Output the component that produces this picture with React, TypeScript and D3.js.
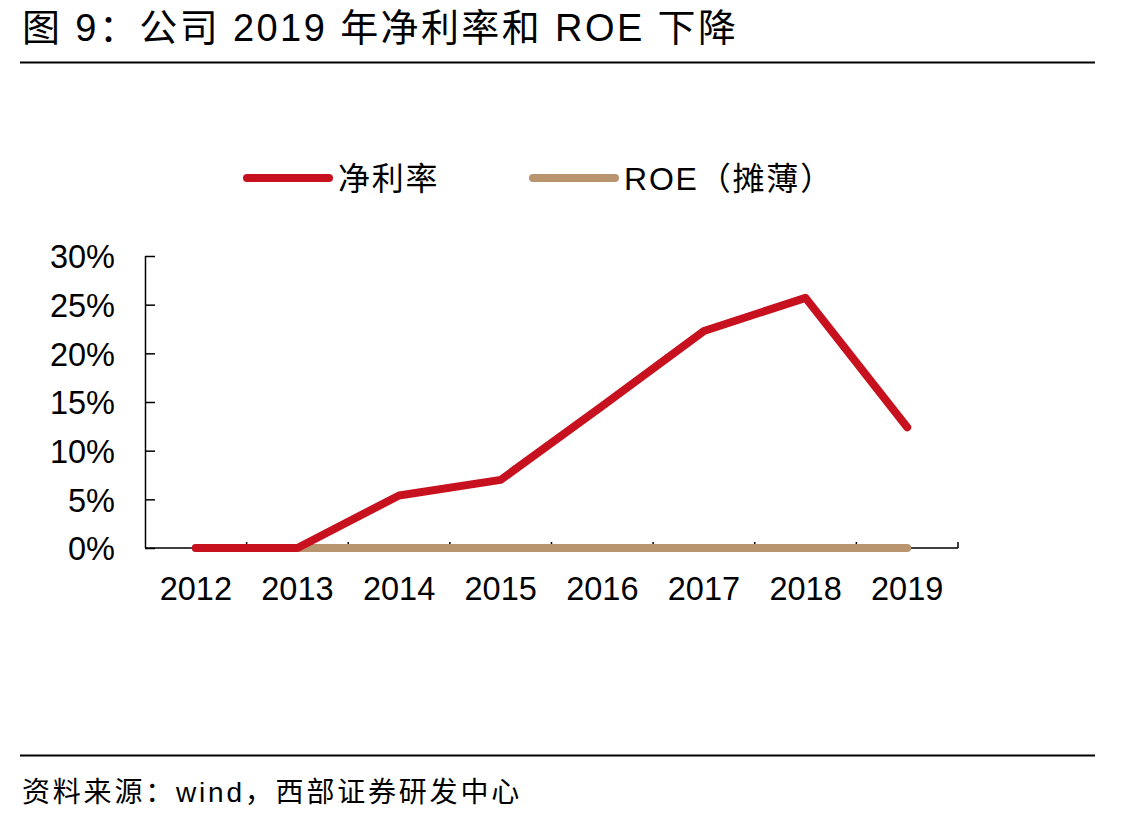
import * as d3 from 'd3';
import { useEffect, useRef } from 'react';

const years = ['2012', '2013', '2014', '2015', '2016', '2017', '2018', '2019'];
const netMargin = [0, 0, 5.4, 7.0, 14.6, 22.3, 25.7, 12.4];
const roeDiluted = [0, 0, 0, 0, 0, 0, 0, 0];
const yTicks = [0, 5, 10, 15, 20, 25, 30];

const RED = '#C8111E';
const TAN = '#B8956F';
// latin glyphs from Liberation Sans, CJK falls back to Noto
const MIXED = '"Liberation Sans", "Noto Sans CJK SC", sans-serif';
const LATIN = '"Liberation Sans", Arial, sans-serif';

const App = () => {
  const ref = useRef<SVGSVGElement | null>(null);
  const width = 1144;
  const height = 821;
  const margin = { left: 145, right: 186, top: 256, bottom: 273 };

  useEffect(() => {
    if (!ref.current) return;
    const svg = d3.select(ref.current);
    svg.selectAll('*').remove();

    // title + rules
    svg
      .append('text')
      .attr('x', 22)
      .attr('y', 41)
      .attr('font-family', MIXED)
      .attr('font-size', 38)
      .attr('letter-spacing', 2.4)
      .attr('fill', '#000')
      .text('图 9：公司 2019 年净利率和 ROE 下降');

    svg
      .append('line')
      .attr('x1', 20)
      .attr('x2', 1095)
      .attr('y1', 62.5)
      .attr('y2', 62.5)
      .attr('stroke', '#000')
      .attr('stroke-width', 2);

    svg
      .append('line')
      .attr('x1', 20)
      .attr('x2', 1095)
      .attr('y1', 755.5)
      .attr('y2', 755.5)
      .attr('stroke', '#000')
      .attr('stroke-width', 2);

    svg
      .append('text')
      .attr('x', 22)
      .attr('y', 802)
      .attr('font-family', MIXED)
      .attr('font-size', 28)
      .attr('letter-spacing', 2.8)
      .attr('fill', '#000')
      .text('资料来源：wind，西部证券研发中心');

    const x = d3
      .scaleBand()
      .domain(years)
      .range([margin.left, width - margin.right]);

    const y = d3
      .scaleLinear()
      .domain([0, 30])
      .range([height - margin.bottom, margin.top]);

    // y axis
    const yAxis = svg
      .append('g')
      .attr('transform', `translate(${margin.left},0)`)
      .call(
        d3
          .axisRight(y)
          .tickValues(yTicks)
          .tickSize(10)
          .tickFormat((d) => `${d}%`)
      );
    yAxis.selectAll('path.domain').attr('stroke', '#000').attr('stroke-width', 1.5).attr('d', `M0.5,${y(30)}V${y(0)}`);
    yAxis.selectAll('.tick line').attr('stroke', '#000').attr('stroke-width', 1.5);
    yAxis
      .selectAll('.tick text')
      .attr('x', -30)
      .attr('dy', '0.36em')
      .attr('text-anchor', 'end')
      .attr('font-family', LATIN)
      .attr('font-size', 32.5)
      .attr('fill', '#000');

    // x axis
    const bounds = [...years.map((d) => x(d)!), width - margin.right];
    const xAxis = svg.append('g');
    xAxis
      .append('line')
      .attr('x1', margin.left)
      .attr('x2', width - margin.right)
      .attr('y1', y(0))
      .attr('y2', y(0))
      .attr('stroke', '#000')
      .attr('stroke-width', 1.5);
    xAxis
      .selectAll('line.tk')
      .data(bounds.slice(1))
      .join('line')
      .attr('class', 'tk')
      .attr('x1', (d) => d)
      .attr('x2', (d) => d)
      .attr('y1', y(0))
      .attr('y2', y(0) - 6)
      .attr('stroke', '#000')
      .attr('stroke-width', 1.5);
    xAxis
      .selectAll('text')
      .data(years)
      .join('text')
      .attr('x', (d) => x(d)! + x.bandwidth() / 2)
      .attr('y', 600)
      .attr('text-anchor', 'middle')
      .attr('font-family', LATIN)
      .attr('font-size', 32.5)
      .attr('fill', '#000')
      .text((d) => d);

    const line = d3
      .line<number>()
      .x((_, i) => x(years[i])! + x.bandwidth() / 2)
      .y((d) => y(d));

    svg
      .append('path')
      .datum(roeDiluted)
      .attr('d', line)
      .attr('fill', 'none')
      .attr('stroke', TAN)
      .attr('stroke-width', 8)
      .attr('stroke-linecap', 'round')
      .attr('stroke-linejoin', 'round');

    svg
      .append('path')
      .datum(netMargin)
      .attr('d', line)
      .attr('fill', 'none')
      .attr('stroke', RED)
      .attr('stroke-width', 8)
      .attr('stroke-linecap', 'round')
      .attr('stroke-linejoin', 'round');

    // legend
    const legend = [
      { label: '净利率', color: RED, x0: 247 },
      { label: 'ROE（摊薄）', color: TAN, x0: 533 },
    ];
    const lg = svg.append('g');
    legend.forEach((item) => {
      lg.append('line')
        .attr('x1', item.x0)
        .attr('x2', item.x0 + 82)
        .attr('y1', 178)
        .attr('y2', 178)
        .attr('stroke', item.color)
        .attr('stroke-width', 8)
        .attr('stroke-linecap', 'round');
      lg.append('text')
        .attr('x', item.x0 + 91)
        .attr('y', 190)
        .attr('font-family', MIXED)
        .attr('font-size', 32)
        .attr('letter-spacing', 1.8)
        .attr('fill', '#000')
        .text(item.label);
    });
  }, []);

  return (
    <div style={{ position: 'absolute', left: 0, top: 0, background: '#fff' }}>
      <svg ref={ref} width={width} height={height} style={{ display: 'block' }} />
    </div>
  );
};

export default App;
